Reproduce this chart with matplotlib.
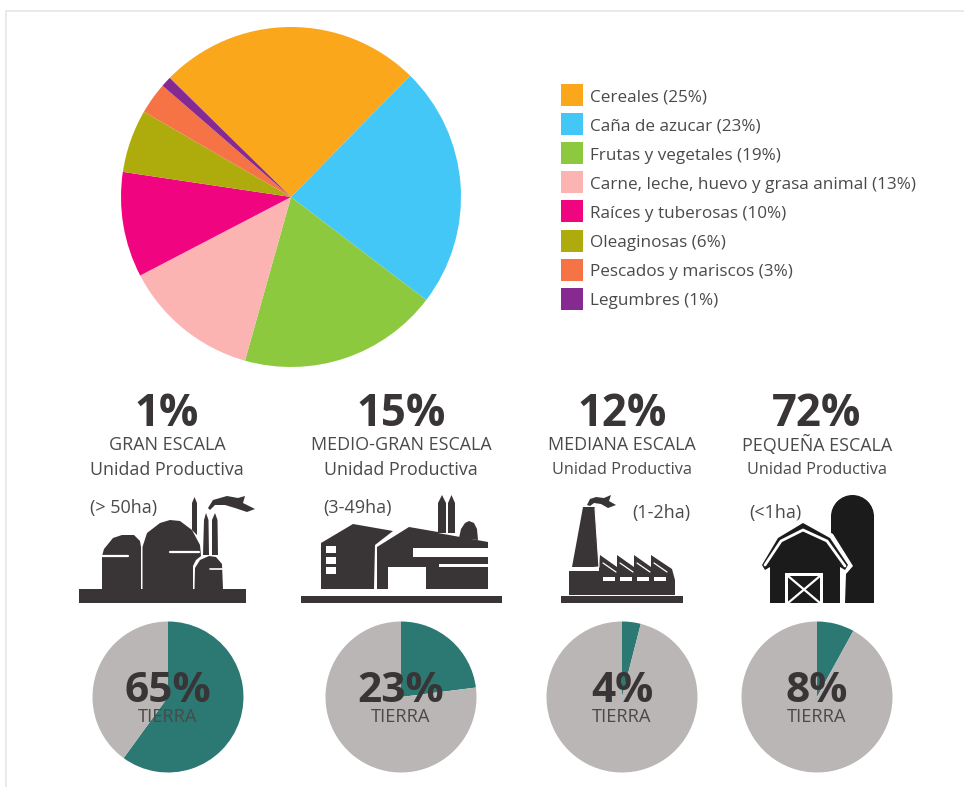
import matplotlib
matplotlib.use("Agg")
import matplotlib.pyplot as plt
from matplotlib.patches import Polygon, Rectangle, Wedge

plt.rcParams['font.family'] = ['Open Sans', 'DejaVu Sans']

W, H = 964, 787

# --- data ---
food_labels = ['Cereales (25%)', 'Caña de azucar (23%)', 'Frutas y vegetales (19%)',
               'Carne, leche, huevo y grasa animal (13%)', 'Raíces y tuberosas (10%)',
               'Oleaginosas (6%)', 'Pescados y mariscos (3%)', 'Legumbres (1%)']
food_values = [25, 23, 19, 13, 10, 6, 3, 1]
food_colors = ['#fba71b', '#43c7f7', '#8dc93f', '#fbb4b1', '#f1047f', '#aeac0c', '#f57345', '#862a92']

farm_share = ['1%', '15%', '12%', '72%']
farm_names = ['GRAN ESCALA', 'MEDIO-GRAN ESCALA', 'MEDIANA ESCALA', 'PEQUEÑA ESCALA']
farm_sizes = ['(> 50ha)', '(3-49ha)', '(1-2ha)', '(<1ha)']
land_labels = ['65%', '23%', '4%', '8%']
land_drawn = [60, 23, 4, 8]   # what the wedges really show (first one differs from its label)

# --- layout, in pixels of the image ---
pie_x = [168, 401, 622, 817]
head_x = [167, 401, 622, 817]
name_size = [12.9, 12.9, 12.9, 12.9]
unit_size = [12.85, 12.85, 11.7, 11.7]
size_x = [124, 358, 661, 775]
size_y = [507, 507, 512, 512]

DARK = '#393536'
BLACK = '#1b1b1b'
TEXT = '#4a4a4a'
TEAL = '#2c7872'
GREY = '#bab6b5'


def Y(py):
    return H - py


fig = plt.figure(figsize=(W / 100, H / 100), dpi=100)
ax = fig.add_axes([0, 0, 1, 1])


def poly(pts, color=DARK, z=3, **kw):
    ax.add_patch(Polygon([(x, Y(y)) for x, y in pts], closed=True, fc=color, ec='none', zorder=z, **kw))


def rect(x0, y0, x1, y1, color=DARK, z=3):
    ax.add_patch(Rectangle((x0, Y(y1)), x1 - x0, y1 - y0, fc=color, ec='none', zorder=z))


def wline(pts, lw=2.0, color='white', z=4):
    ax.plot([p[0] for p in pts], [Y(p[1]) for p in pts], color=color, lw=lw, zorder=z,
            solid_capstyle='round', solid_joinstyle='round')


# frame of the page
ax.plot([6, 6, W], [0, Y(11), Y(11)], color='#e6e6e6', lw=1.2, zorder=1)

# main pie
ax.pie(food_values, colors=food_colors, startangle=135.5, counterclock=False,
       center=(291, Y(197)), radius=170, wedgeprops=dict(linewidth=0))

# legend
for i, (lab, col) in enumerate(zip(food_labels, food_colors)):
    cy = 95 + i * 29.1
    rect(561, cy - 11, 583, cy + 11, color=col)
    ax.text(590, Y(cy + 2.5), lab, fontsize=12.3, color=TEXT, va='center', ha='left')

# headings
for i in range(4):
    ax.text(head_x[i], Y(414), farm_share[i], fontsize=31.5, fontweight='bold', color=DARK, ha='center', va='center')
    ax.text(head_x[i], Y(445), farm_names[i], fontsize=name_size[i], color=TEXT, ha='center', va='center')
    ax.text(head_x[i], Y(470), 'Unidad Productiva', fontsize=unit_size[i], color=TEXT, ha='center', va='center')
    ax.text(size_x[i], Y(size_y[i] + 1), farm_sizes[i], fontsize=13, color=TEXT, ha='center', va='center')

# land pies
for i in range(4):
    ax.pie([land_drawn[i], 100 - land_drawn[i]], colors=[TEAL, GREY], startangle=90, counterclock=False,
           center=(pie_x[i], Y(697)), radius=75.5, wedgeprops=dict(linewidth=0))
    ax.text(pie_x[i], Y(692), land_labels[i], fontsize=30.5, fontweight='bold', color=DARK, ha='center', va='center', zorder=5)
    ax.text(pie_x[i], Y(717), 'TIERRA', fontsize=13.2, color=TEXT, ha='center', va='center', zorder=5)

# --- icon 1: gran escala ---
rect(79, 589, 246, 603)
poly([(102, 589), (102, 556), (104, 549), (113, 538), (122, 535), (134, 535), (140, 541), (141, 547), (141, 589)])
poly([(142.5, 589), (142.5, 547), (147, 533), (160, 523), (170, 520), (180, 521), (192, 530), (200, 545), (201, 556),
      (196, 560), (193, 566), (193, 589)])
poly([(194.5, 589), (195, 568), (200, 560), (209, 556), (216, 557), (222, 564), (223, 589)])
wline([(102, 556), (128, 556)], lw=1.6)
wline([(170, 552), (199, 552)], lw=1.6)
wline([(210, 569), (223, 569)], lw=1.2)
poly([(192, 530), (192, 503), (194.5, 497), (197, 503), (197, 535)])
poly([(203, 555), (204, 520), (206, 513), (208.5, 520), (209, 555)])
poly([(212, 555), (212, 520), (215, 513), (217.5, 520), (218, 555)])
poly([(208, 508), (213, 500), (227, 496), (238, 498), (245, 496), (243, 503), (255, 509), (247, 512),
      (235, 508), (225, 505), (215, 505), (210, 510)])

# --- icon 2: medio-gran escala ---
rect(301, 596, 502, 603)
poly([(321, 543), (353, 524), (393, 531), (375, 545), (374, 589), (321, 589)])
for wy in (546, 557, 567):
    rect(326, wy, 336, wy + 7, color='white', z=4)
poly([(377, 547), (409, 527), (438, 532), (438, 533), (488, 542), (488, 589), (426, 589), (426, 567), (388, 567),
      (388, 589), (377, 589)])
rect(413, 548, 488, 557, color='white', z=4)
rect(439, 564, 488, 567, color='white', z=4)
poly([(438, 533), (438, 503), (442, 495), (446, 503), (446, 533)])
poly([(448, 533), (448, 503), (451.5, 495), (455, 503), (455, 533)])
poly([(459, 538), (461, 529), (465, 523), (469, 521), (474, 523), (477, 529), (478, 540)])

# --- icon 3: mediana escala ---
rect(561, 596, 683, 603)
poly([(599, 567), (600, 555), (617, 567), (617, 555), (634, 567), (634, 555), (651, 567), (651, 555), (672, 569),
      (675, 580), (675, 595), (569, 595), (569, 571), (599, 571)])
poly([(572, 567), (583, 507), (595, 507), (599, 567)])
wline([(595, 508), (599, 567), (569, 570)], lw=0.8)
for tx in (600, 617, 634, 651):
    wline([(tx + 3, 563), (tx + 16, 572)], lw=0.9)
    rect(tx + 3, 577, tx + 15, 581, color='white', z=4)
poly([(587, 505), (590, 499), (596, 497), (604, 498), (611, 495), (609, 501), (616, 505), (608, 508), (601, 504),
      (594, 503), (590, 506)])

# --- icon 4: pequeña escala ---
rect(831, 515, 874, 603, color=BLACK)
ax.add_patch(Wedge((852.5, Y(516.5)), 21.5, 0, 180, fc=BLACK, ec='none', zorder=3))
barn = [(762, 565), (778, 538), (803, 523), (830, 538), (848, 565), (845, 570), (840, 567), (840, 603), (770, 603),
        (770, 567), (765, 570)]
poly([(755, 566), (775, 534), (803, 517), (833, 534), (853, 566), (846, 574), (845, 603), (765, 603), (765, 574)],
     color='white', z=3.2)
poly(barn, color=BLACK, z=3.4)
wline([(765, 565), (781, 541), (803, 530), (827, 541), (845, 566)], lw=2.0)
rect(785, 573, 823, 603, color='white', z=4)
rect(788, 576, 820, 603, color=BLACK, z=4.1)
wline([(788, 576), (820, 603)], lw=1.6, z=4.2)
wline([(820, 576), (788, 603)], lw=1.6, z=4.2)

ax.set_xlim(0, W)
ax.set_ylim(0, H)
ax.set_aspect('auto')
ax.set_axis_off()

fig.savefig('out.png', dpi=100, facecolor='white')
